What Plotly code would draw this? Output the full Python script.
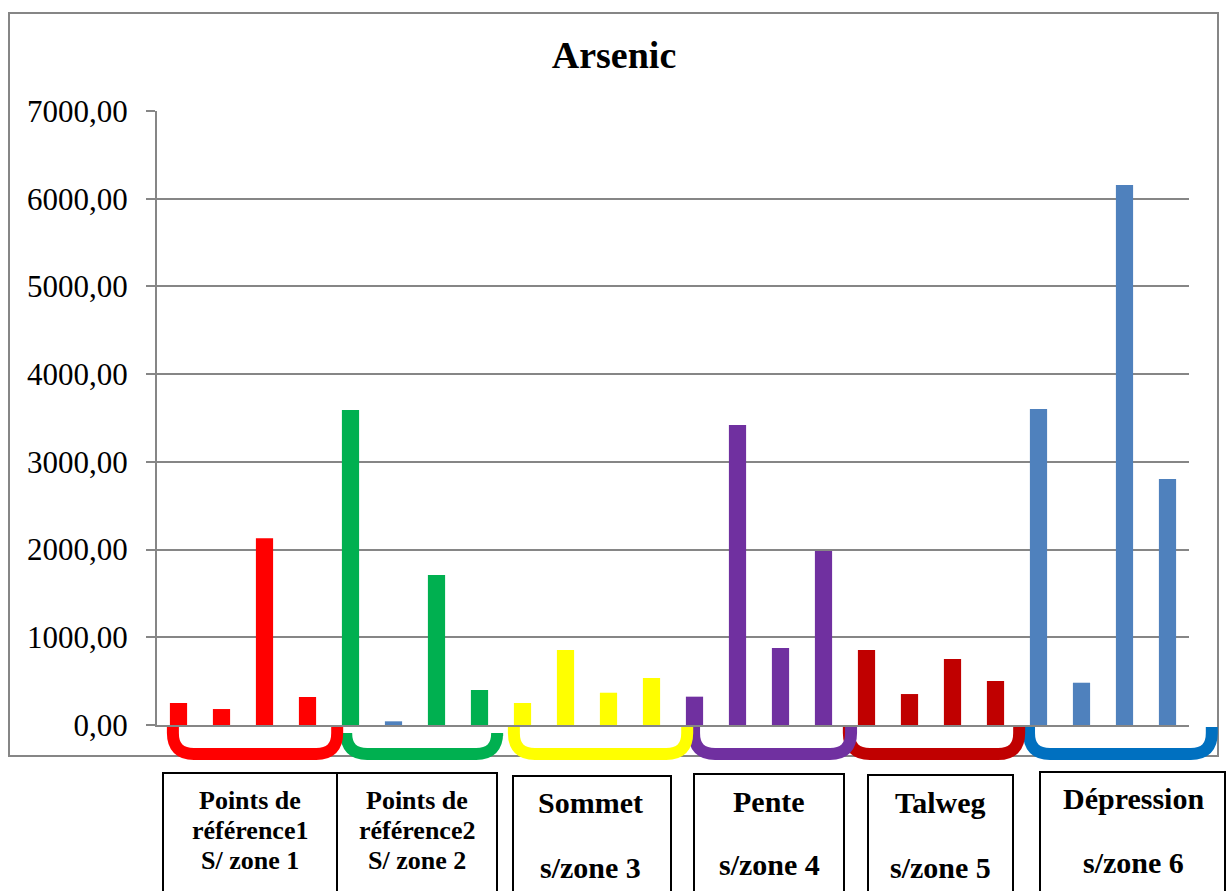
import plotly.graph_objects as go

# Arsenic concentrations per sampling point, grouped by sub-zone
points = list(range(1, 25))
arsenic = [251, 182, 2128, 319,          # Points de référence 1
           3591, 42, 1710, 399,          # Points de référence 2
           251, 855, 368, 536,           # Sommet
           323, 3420, 878, 1984,         # Pente
           855, 353, 752, 502,           # Talweg
           3603, 482, 6157, 2805]        # Dépression
bar_colors = ["#FF0000"] * 4 + ["#00B050", "#4F81BD", "#00B050", "#00B050"] + \
             ["#FFFF00"] * 4 + ["#7030A0"] * 4 + ["#C00000"] * 4 + ["#4F81BD"] * 4
y_ticks = [0, 1000, 2000, 3000, 4000, 5000, 6000, 7000]

# Sub-zone groups: (first..last extent in category units, bracket colour)
groups = [
    (-0.27, 3.83, "#FF0000"),
    (3.76, 7.55, "#00B050"),
    (7.66, 11.97, "#FFFF00"),
    (11.85, 15.78, "#7030A0"),
    (15.45, 19.69, "#C00000"),
    (19.64, 24.17, "#0070C0"),
]
group_labels = [
    ["Points de", "référence1", "S/ zone 1"],
    ["Points de", "référence2", "S/ zone 2"],
    ["Sommet", "", "s/zone 3"],
    ["Pente", "", "s/zone 4"],
    ["Talweg", "", "s/zone 5"],
    ["Dépression", "", "s/zone 6"],
]

# Page geometry (pixels)
FIG_W, FIG_H = 1226, 891
L, R, T, B = 157, 1189, 111, 725
W, H = R - L, B - T
N = len(points)


def xp(px):
    return (px - L) / W


def yp(py):
    return (B - py) / H


def cat_px(c):
    return L + (c + 0.5) * W / N


fig = go.Figure()
fig.add_trace(go.Bar(
    x=list(range(N)), y=arsenic, marker=dict(color=bar_colors, line=dict(width=0)),
    width=0.4, hoverinfo="y",
))

shapes = []
# outer chart frame
shapes.append(dict(type="rect", xref="paper", yref="paper",
                   x0=xp(9), x1=xp(1218), y0=yp(756), y1=yp(13),
                   line=dict(color="#868686", width=2), layer="below"))

# bracket under each sub-zone
tops = [727, 736, 727, 727, 727, 727]
for (c0, c1, col), top in zip(groups[::-1], tops[::-1]):
    lx = cat_px(c0) + 6
    rx = cat_px(c1) - 6
    by = 754
    r = 21
    path = (f"M {xp(lx)},{yp(top)} L {xp(lx)},{yp(by - r)} "
            f"Q {xp(lx)},{yp(by)} {xp(lx + r)},{yp(by)} "
            f"L {xp(rx - r)},{yp(by)} "
            f"Q {xp(rx)},{yp(by)} {xp(rx)},{yp(by - r)} "
            f"L {xp(rx)},{yp(top)}")
    shapes.append(dict(type="path", xref="paper", yref="paper", path=path,
                       line=dict(color=col, width=12)))

# label boxes (left, right, top in pixels)
boxes = [(163, 337, 773), (337, 497, 773), (513, 671, 776),
         (694, 844, 774), (868, 1013, 775), (1040, 1225, 772)]
for x0, x1, top in boxes:
    shapes.append(dict(type="rect", xref="paper", yref="paper",
                       x0=xp(x0), x1=xp(x1), y0=yp(top), y1=yp(940),
                       line=dict(color="black", width=2)))

annotations = []
baselines_3 = [810, 840, 870]
baselines_2 = {2: (813, 878), 3: (812, 875), 4: (813, 878), 5: (809, 873)}
centers = [250, 417, 590, 769, 940, 1133]
for i, lines in enumerate(group_labels):
    if i < 2:
        bls = baselines_3
        size = 26
    else:
        bls = [baselines_2[i][0], None, baselines_2[i][1]]
        size = 30
    for text, bl in zip(lines, bls):
        if not text:
            continue
        annotations.append(dict(
            text=f"<b>{text}</b>", xref="paper", yref="paper",
            x=xp(centers[i]), y=yp(bl - size * 0.35), xanchor="center", yanchor="middle",
            showarrow=False, font=dict(family="Liberation Serif", size=size, color="black"),
        ))

fig.update_layout(
    width=FIG_W, height=FIG_H,
    margin=dict(l=L, r=FIG_W - R, t=T, b=FIG_H - B, pad=0),
    paper_bgcolor="white", plot_bgcolor="white",
    separators=",.",
    showlegend=False,
    title=dict(text="<b>Arsenic</b>", x=xp(614), xref="paper", xanchor="center",
               y=1 - 55 / FIG_H, yanchor="middle",
               font=dict(family="Liberation Serif", size=38, color="black")),
    xaxis=dict(range=[-0.5, N - 0.5], showticklabels=False, showgrid=False,
               zeroline=False, showline=True, linecolor="#868686", linewidth=2,
               ticks=""),
    yaxis=dict(range=[0, 7000], tickvals=y_ticks, tickformat=".2f",
               showgrid=True, gridcolor="#868686", gridwidth=2,
               zeroline=False, showline=True, linecolor="#868686", linewidth=2,
               ticks="outside", ticklen=9, tickcolor="#868686", tickwidth=2,
               ticklabelstandoff=12,
               tickfont=dict(family="Liberation Serif", size=31, color="black")),
    shapes=shapes, annotations=annotations,
)

fig.write_html("out.html")
